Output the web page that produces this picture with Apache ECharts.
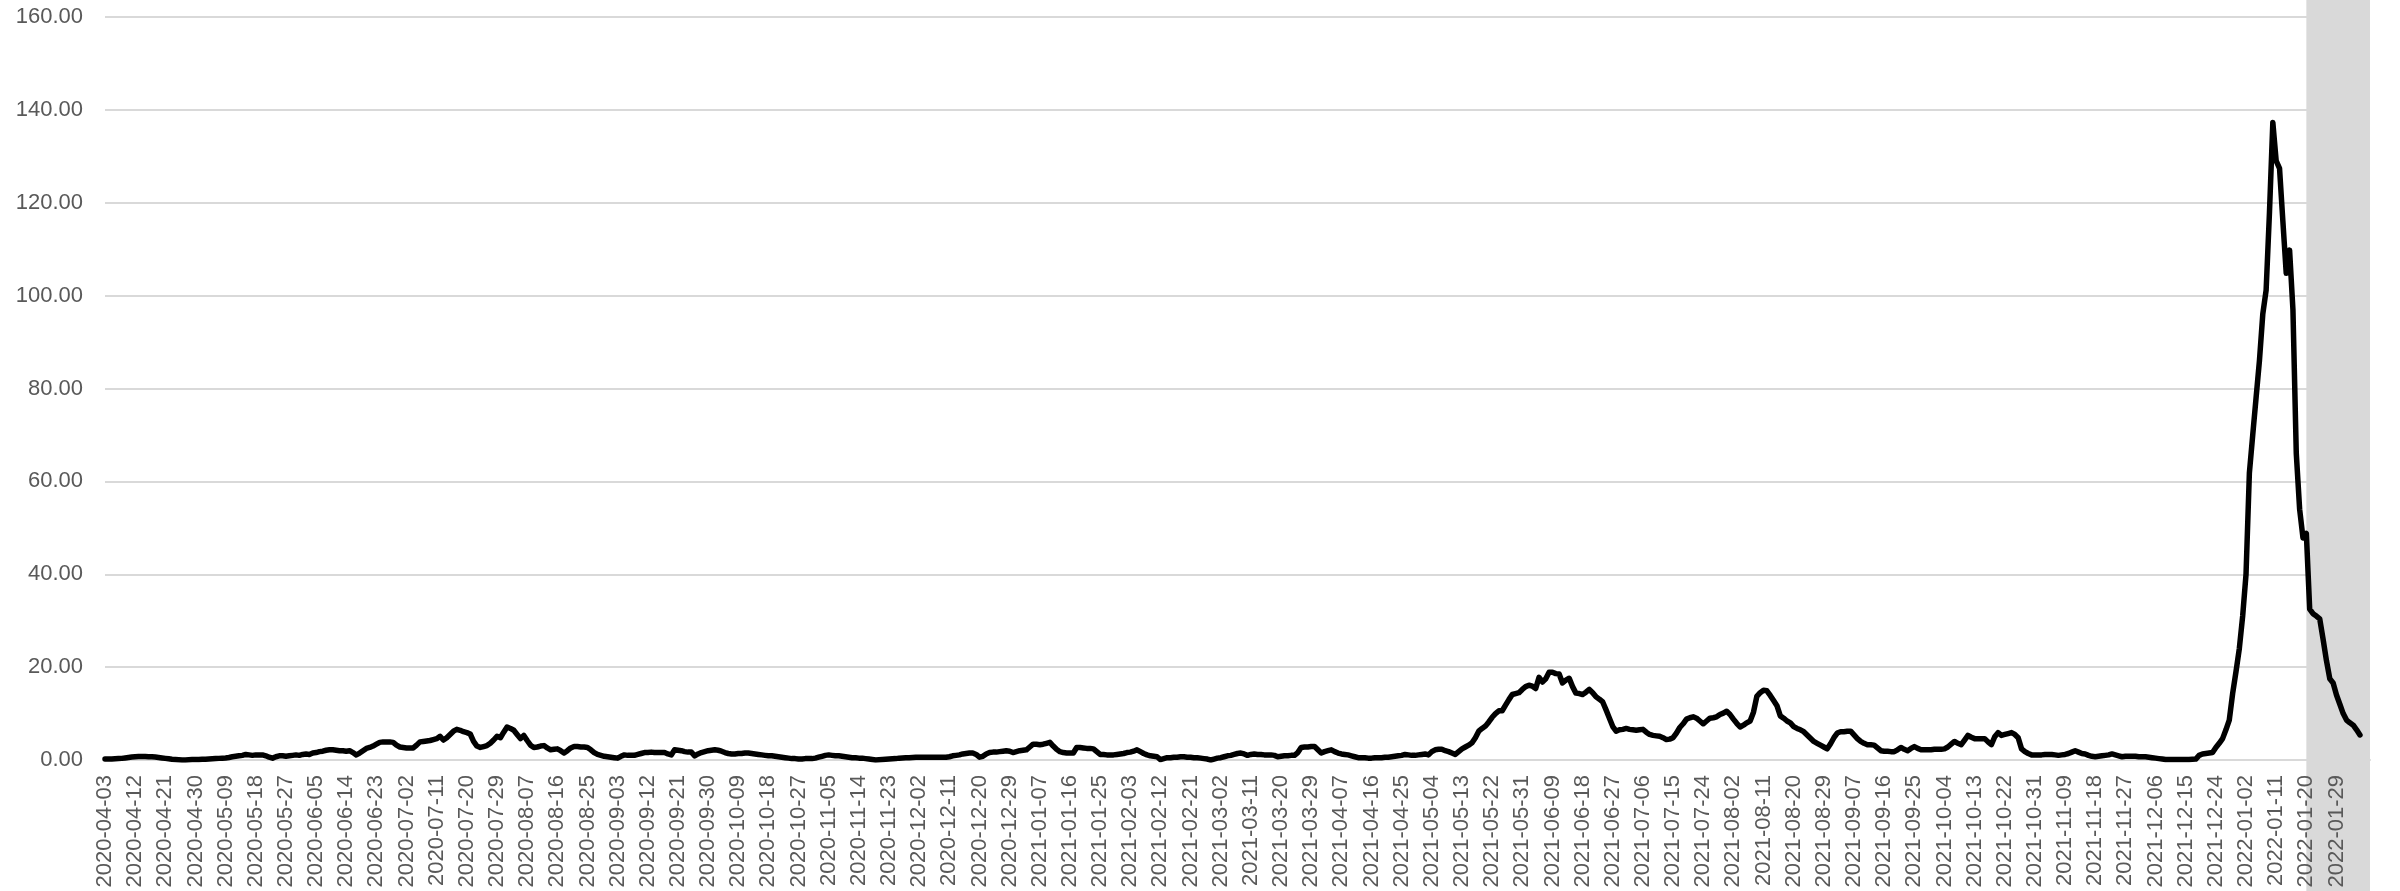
<!DOCTYPE html>
<html>
<head>
<meta charset="utf-8">
<script src="https://cdn.jsdelivr.net/npm/echarts@6/dist/echarts.min.js"></script>
<style>
html,body{margin:0;padding:0;background:#fff;}
#chart{width:2400px;height:891px;}
</style>
</head>
<body>
<div id="chart"></div>
<script>
// Category axis: daily dates starting 2020-04-03
const startDate = '2020-04-03';
const categoryCount = 677; // through 2022-02-08
const lastLabelDate = '2022-01-29';
const highlightStart = '2022-01-20';
const yMin = 0, yMax = 160, yStep = 20;
const labelEvery = 9;

// Daily values
const rate2020 = [
0.2,0.2,0.2,0.25,0.3,0.35,0.45,0.55,0.65,0.7,
0.75,0.75,0.75,0.7,0.7,0.65,0.55,0.45,0.35,0.25,
0.15,0.1,0.05,0,0,0.05,0.1,0.1,0.1,0.15,
0.15,0.2,0.25,0.3,0.35,0.4,0.45,0.55,0.7,0.8,
0.9,1.0,1.2,1.1,1.0,1.1,1.1,1.1,0.9,0.6,
0.4,0.7,0.9,0.9,0.8,0.9,1.0,1.1,1.0,1.2,
1.3,1.2,1.5,1.6,1.8,1.9,2.1,2.2,2.2,2.1,
2.0,2.0,1.9,2.0,1.6,1.1,1.5,2.0,2.5,2.7,
3.0,3.4,3.8,3.9,3.9,3.9,3.8,3.2,2.8,2.7,
2.6,2.6,2.6,3.2,3.9,4.0,4.1,4.2,4.4,4.6,
5.1,4.3,4.8,5.5,6.2,6.6,6.4,6.1,5.9,5.6,
4.0,3.0,2.7,2.9,3.1,3.6,4.3,5.1,4.8,6.0,
7.1,6.8,6.4,5.5,4.6,5.3,4.2,3.2,2.7,2.8,
3.0,3.1,2.6,2.2,2.3,2.4,2.0,1.5,2.0,2.6,
2.9,2.9,2.8,2.8,2.7,2.2,1.6,1.2,1.0,0.8,
0.7,0.6,0.5,0.4,0.8,1.1,1.0,1.0,1.0,1.2,
1.4,1.6,1.6,1.7,1.6,1.6,1.6,1.6,1.3,1.1,
2.2,2.1,2.0,1.8,1.7,1.7,0.9,1.3,1.6,1.8,
2.0,2.1,2.2,2.1,1.9,1.6,1.4,1.3,1.3,1.4,
1.4,1.5,1.5,1.4,1.3,1.2,1.1,1.0,0.9,0.9,
0.8,0.7,0.6,0.5,0.4,0.3,0.3,0.2,0.2,0.3,
0.3,0.3,0.4,0.6,0.8,1.0,1.1,1.0,0.9,0.9,
0.8,0.7,0.6,0.5,0.5,0.4,0.4,0.3,0.2,0.1,
0.0,0.05,0.1,0.15,0.2,0.25,0.3,0.4,0.45,0.5,
0.5,0.55,0.6,0.6,0.6,0.6,0.6,0.6,0.6,0.6,
0.6,0.6,0.7,0.9,1.0,1.1,1.3,1.4,1.5,1.5,
1.2,0.6,0.8,1.3,1.6,1.7,1.7,1.8,1.9,2.0,
1.9,1.6,1.8
];
const rate2021 = [
2.0,2.1,2.2,2.8,3.4,3.4,3.3,
3.4,3.6,3.8,3.0,2.3,1.8,1.6,1.5,1.5,1.5,
2.7,2.7,2.6,2.5,2.5,2.4,1.8,1.2,1.2,1.1,
1.1,1.1,1.2,1.3,1.4,1.6,1.7,1.9,2.2,1.8,
1.4,1.1,0.9,0.8,0.7,0.1,0.3,0.5,0.5,0.6,
0.6,0.7,0.7,0.6,0.6,0.5,0.5,0.4,0.3,0.2,
0.0,0.2,0.4,0.5,0.7,0.9,1.0,1.2,1.4,1.5,
1.3,1.0,1.2,1.3,1.2,1.2,1.1,1.1,1.1,1.0,
0.7,0.8,0.9,0.9,1.0,1.0,1.6,2.7,2.8,2.8,
2.9,2.9,2.2,1.5,1.8,2.0,2.2,1.8,1.5,1.3,
1.2,1.1,0.9,0.7,0.5,0.5,0.5,0.4,0.4,0.5,
0.5,0.5,0.6,0.6,0.7,0.8,0.9,1.0,1.2,1.1,
1.0,1.0,1.1,1.2,1.3,1.1,1.8,2.2,2.3,2.3,
2.0,1.8,1.5,1.2,1.8,2.4,2.8,3.2,3.7,4.8,
6.2,6.8,7.3,8.2,9.2,10.0,10.6,10.6,11.8,13.0,
14.1,14.3,14.5,15.2,15.8,16.1,15.9,15.4,17.8,16.8,
17.5,18.9,18.9,18.6,18.5,16.6,17.2,17.6,15.8,14.4,
14.3,14.1,14.6,15.2,14.5,13.6,13.1,12.5,10.8,9.0,
7.2,6.2,6.5,6.6,6.8,6.6,6.5,6.4,6.5,6.6,
6.0,5.5,5.3,5.2,5.1,4.8,4.4,4.5,4.8,5.8,
7.0,7.8,8.8,9.1,9.3,9.0,8.4,7.8,8.4,9.0,
9.1,9.3,9.8,10.1,10.5,9.8,8.8,7.9,7.1,7.5,
8.0,8.4,10.3,13.7,14.5,15.0,14.9,13.9,12.8,11.7,
9.5,9.0,8.4,8.0,7.2,6.8,6.5,6.1,5.4,4.7,
4.0,3.6,3.2,2.8,2.4,3.5,4.8,5.8,6.1,6.1,
6.2,6.2,5.4,4.6,4.0,3.6,3.3,3.3,3.2,2.6,
2.0,1.9,1.9,1.8,1.8,2.2,2.7,2.3,2.0,2.5,
2.9,2.5,2.2,2.2,2.2,2.2,2.3,2.3,2.3,2.4,
2.8,3.4,4.0,3.6,3.3,4.3,5.3,4.9,4.6,4.6,
4.6,4.6,3.9,3.3,5.0,5.9,5.3,5.5,5.7,5.9,
5.5,4.8,2.4,1.8,1.4,1.1,1.1,1.1,1.1,1.2,
1.2,1.2,1.1,1.0,1.1,1.2,1.4,1.7,2.0,1.7,
1.4,1.3,1.0,0.8,0.7,0.8,0.9,1.0,1.1,1.3,
1.1,0.9,0.7,0.8,0.8,0.8,0.8,0.7,0.7,0.7,
0.6,0.5,0.4,0.3,0.2,0.1,0.1,0.1,0.1,0.1,
0.1,0.1,0.1,0.15,0.2,1.0,1.3,1.4,1.5,1.6,
2.7,3.6,4.6,6.5,8.6,14.3,19,24
];
const rate2022 = [
31,40,
61.8,70,78,86,96,101.2,118,137.3,129,127.4,
116,104.8,109.8,97,66,54,47.8,48.8,32.5,31.5,
31,30.4,26,21.4,17.5,16.6,14,12,10,8.6,
8,7.5,6.5,5.4
];

function pad(n){return n<10?'0'+n:''+n;}
const categories = [];
(function(){
  const p = startDate.split('-').map(Number);
  const base = Date.UTC(p[0], p[1]-1, p[2]);
  for (let i=0;i<categoryCount;i++){
    const d = new Date(base + i*86400000);
    categories.push(d.getUTCFullYear()+'-'+pad(d.getUTCMonth()+1)+'-'+pad(d.getUTCDate()));
  }
})();
const values = rate2020.concat(rate2021, rate2022);
const lastLabelIndex = categories.indexOf(lastLabelDate);

const chart = echarts.init(document.getElementById('chart'), null, {renderer:'canvas'});
const textColor = '#595959';
const font = 'Liberation Sans, Arial, sans-serif';
chart.setOption({
  animation:false,
  backgroundColor:'#ffffff',
  grid:{left:105,right:30,top:17,bottom:131,containLabel:false},
  xAxis:{
    type:'category',
    data:categories,
    boundaryGap:false,
    axisLine:{show:true,lineStyle:{color:'#d9d9d9',width:2}},
    axisTick:{show:false},
    splitLine:{show:false},
    axisLabel:{
      interval:function(idx){ return idx % labelEvery === 0 && idx <= lastLabelIndex; },
      rotate:90,
      margin:15,
      color:textColor,
      fontSize:22,
      fontFamily:font
    }
  },
  yAxis:{
    type:'value',
    min:yMin,max:yMax,interval:yStep,
    axisLine:{show:false},
    axisTick:{show:false},
    splitLine:{show:true,lineStyle:{color:'#d9d9d9',width:2}},
    axisLabel:{
      margin:22,
      color:textColor,
      fontSize:22,
      fontFamily:font,
      formatter:function(v){return v.toFixed(2);}
    }
  },
  series:[{
    type:'line',
    data:values,
    showSymbol:false,
    symbol:'none',
    smooth:false,
    z:5,
    lineStyle:{color:'#000000',width:5.5,cap:'round',join:'round'}
  }]
});

const x0 = chart.convertToPixel({xAxisIndex:0}, highlightStart);
const x1 = chart.convertToPixel({xAxisIndex:0}, categories[categories.length-1]);
chart.setOption({
  graphic:[{
    type:'rect',
    z:-10,
    silent:true,
    shape:{x:x0,y:0,width:x1-x0,height:891},
    style:{fill:'#d9d9d9'}
  }]
});
</script>
</body>
</html>
